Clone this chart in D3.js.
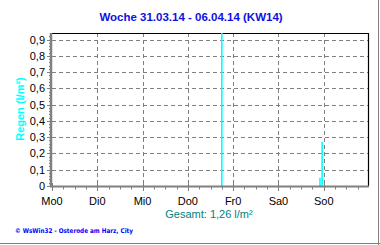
<!DOCTYPE html>
<html lang="de">
<head>
<meta charset="UTF-8">
<title>Regen Woche KW14</title>
<script src="https://d3js.org/d3.v7.min.js"></script>
<style>
  body { margin: 0; padding: 0; background: #fff; }
  svg { display: block; }
  .grid line { stroke: #808080; stroke-width: 1; stroke-dasharray: 4,3; }
</style>
</head>
<body>
<svg width="380" height="245"></svg>
<script>
// Daten
const dayLabels = ["Mo0", "Di0", "Mi0", "Do0", "Fr0", "Sa0", "So0"];
const rainTimes = [3.75, 5.917, 5.965];   // Tage seit Mo 0 Uhr
const rainValues = [0.94, 0.05, 0.27];    // l/m²
const yTicks = [0, 0.1, 0.2, 0.3, 0.4, 0.5, 0.6, 0.7, 0.8, 0.9];
const title = "Woche 31.03.14 - 06.04.14 (KW14)";
const totalText = "Gesamt: 1,26 l/m²";
const footer = "© WsWin32  -  Osterode am Harz, City";

const svg = d3.select("svg");
const pLeft = 52, pRight = 369, pTop = 33, pBottom = 186;

const x = d3.scaleLinear().domain([0, 7]).range([pLeft, pRight]);
const y = d3.scaleLinear().domain([0, 0.94]).range([pBottom, pTop]);

// Rahmen aussen (rechts / unten)
svg.append("line").attr("x1", 378.5).attr("x2", 378.5).attr("y1", 0).attr("y2", 245)
  .attr("stroke", "#808080").attr("stroke-width", 1);
svg.append("line").attr("x1", 0).attr("x2", 380).attr("y1", 243.5).attr("y2", 243.5)
  .attr("stroke", "#808080").attr("stroke-width", 1);

// Titel
svg.append("text").attr("x", 191).attr("y", 21).attr("text-anchor", "middle")
  .attr("font-family", "Arial, 'Liberation Sans', sans-serif").attr("font-size", 11.5)
  .attr("font-weight", "bold").attr("fill", "#1010e0").text(title);

// Gitter
const grid = svg.append("g").attr("class", "grid");
grid.selectAll(".h").data(yTicks.filter(d => d > 0)).enter().append("line")
  .attr("x1", pLeft).attr("x2", pRight).attr("y1", d => Math.round(y(d)) + 0.5).attr("y2", d => Math.round(y(d)) + 0.5);
grid.selectAll(".v").data(d3.range(1, 7)).enter().append("line")
  .attr("x1", d => Math.round(x(d)) + 0.5).attr("x2", d => Math.round(x(d)) + 0.5)
  .attr("y1", pTop).attr("y2", pBottom);

// Rahmen oben / rechts
svg.append("path").attr("d", `M${pLeft},${pTop + 0.5}H${pRight - 0.5}V${pBottom}`)
  .attr("fill", "none").attr("stroke", "#000").attr("stroke-width", 1.2);

// Balken
svg.append("g").selectAll("line").data(rainTimes).enter().append("line")
  .attr("x1", d => x(d)).attr("x2", d => x(d))
  .attr("y1", pBottom).attr("y2", (d, i) => Math.max(pTop, y(rainValues[i])))
  .attr("stroke", "#00ffff").attr("stroke-width", 1.6);

// Y-Achse
const yMinor = d3.range(0, 0.94, 0.02);
svg.append("g").selectAll("line").data(yMinor).enter().append("line")
  .attr("x1", pLeft - 3).attr("x2", pLeft).attr("y1", d => Math.round(y(d)) + 0.5).attr("y2", d => Math.round(y(d)) + 0.5)
  .attr("stroke", "#808080");
svg.append("g").selectAll("line").data(yTicks).enter().append("line")
  .attr("x1", pLeft - 5).attr("x2", pLeft + 2).attr("y1", d => Math.round(y(d)) + 0.5).attr("y2", d => Math.round(y(d)) + 0.5)
  .attr("stroke", "#808080");
svg.append("line").attr("x1", pLeft - 1).attr("x2", pLeft - 1).attr("y1", pTop).attr("y2", pBottom + 1)
  .attr("stroke", "#808080").attr("stroke-width", 2.5);
svg.append("g").selectAll("text").data(yTicks).enter().append("text")
  .attr("x", pLeft - 7).attr("y", d => y(d) + 4).attr("text-anchor", "end")
  .attr("font-family", "Arial, 'Liberation Sans', sans-serif").attr("font-size", 11)
  .attr("fill", "#000").text(d => d === 0 ? "0" : d3.format(".1f")(d).replace(".", ","));

svg.append("text").attr("transform", `translate(24,109) rotate(-90)`).attr("text-anchor", "middle")
  .attr("font-family", "Arial, 'Liberation Sans', sans-serif").attr("font-size", 11)
  .attr("font-weight", "bold").attr("fill", "#00ffff").text("Regen  (l/m²)");

// X-Achse
const xMinor = d3.range(0, 28).map(i => i / 4).filter(d => d % 1 !== 0);
svg.append("g").selectAll("line").data(xMinor).enter().append("line")
  .attr("x1", d => Math.round(x(d)) + 0.5).attr("x2", d => Math.round(x(d)) + 0.5)
  .attr("y1", pBottom).attr("y2", pBottom + 3.5).attr("stroke", "#808080");
svg.append("g").selectAll("line").data(d3.range(0, 7)).enter().append("line")
  .attr("x1", d => Math.round(x(d)) + 0.5).attr("x2", d => Math.round(x(d)) + 0.5)
  .attr("y1", pBottom - 3).attr("y2", pBottom + 5).attr("stroke", "#808080");
svg.append("line").attr("x1", pLeft - 2).attr("x2", pRight).attr("y1", pBottom + 0.5).attr("y2", pBottom + 0.5)
  .attr("stroke", "#808080").attr("stroke-width", 2);
svg.append("g").selectAll("text").data(dayLabels).enter().append("text")
  .attr("x", (d, i) => x(i)).attr("y", 205).attr("text-anchor", "middle")
  .attr("font-family", "Arial, 'Liberation Sans', sans-serif").attr("font-size", 11)
  .attr("fill", "#000").text(d => d);

svg.append("text").attr("x", 209).attr("y", 218).attr("text-anchor", "middle")
  .attr("font-family", "Arial, 'Liberation Sans', sans-serif").attr("font-size", 11)
  .attr("fill", "#008080").text(totalText);

svg.append("text").attr("x", 15).attr("y", 233)
  .attr("font-family", "Verdana, 'DejaVu Sans', sans-serif").attr("font-size", 6.5)
  .attr("font-weight", "bold").attr("fill", "#0000ff")
  .attr("textLength", 118).attr("lengthAdjust", "spacingAndGlyphs").text(footer);
</script>
</body>
</html>
